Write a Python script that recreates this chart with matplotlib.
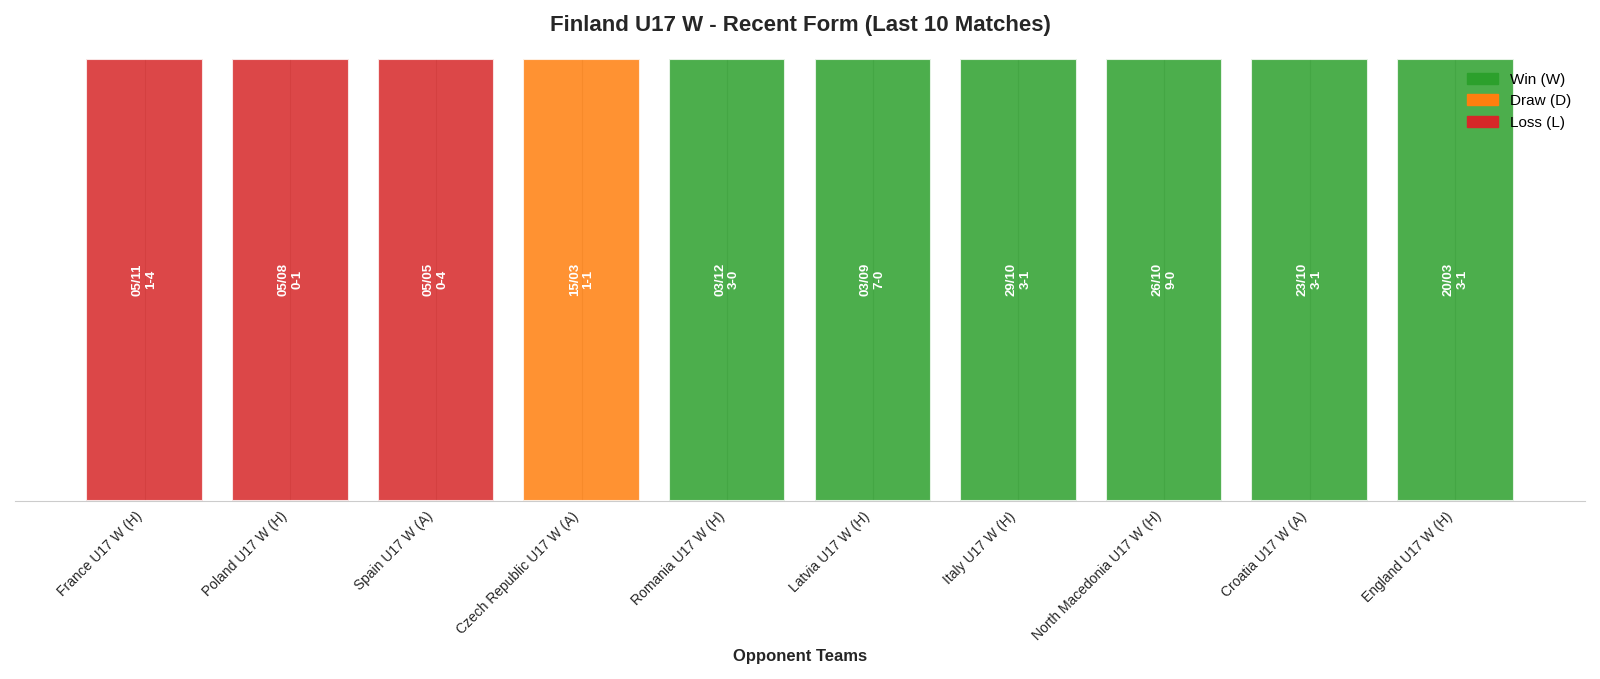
import matplotlib
matplotlib.use('Agg')
from matplotlib import pyplot as plt
from matplotlib.patches import Patch

plt.rcParams['font.family'] = ['Liberation Sans', 'DejaVu Sans']

opponents = ['France U17 W (H)', 'Poland U17 W (H)', 'Spain U17 W (A)',
             'Czech Republic U17 W (A)', 'Romania U17 W (H)', 'Latvia U17 W (H)',
             'Italy U17 W (H)', 'North Macedonia U17 W (H)', 'Croatia U17 W (A)',
             'England U17 W (H)']
dates = ['05/11', '05/08', '05/05', '15/03', '03/12', '03/09', '29/10',
         '26/10', '23/10', '20/03']
scores = ['1-4', '0-1', '0-4', '1-1', '3-0', '7-0', '3-1', '9-0', '3-1', '3-1']
results = ['L', 'L', 'L', 'D', 'W', 'W', 'W', 'W', 'W', 'W']

result_colors = {'W': '#2ca02c', 'D': '#ff7f0e', 'L': '#d62728'}
colors = [result_colors[r] for r in results]
x = list(range(len(opponents)))

fig, ax = plt.subplots(figsize=(16, 6.79), dpi=100)
ax.set_axisbelow(True)
ax.grid(axis='x', color='#cccccc', linewidth=0.8)

ax.bar(x, [1] * len(x), color=colors, alpha=0.85, edgecolor='white', linewidth=1.5)

for i in x:
    ax.text(i, 0.5, f'{dates[i]}\n{scores[i]}', rotation=90, ha='center', va='center',
            color='white', fontsize=9.5, fontweight='bold')

ax.set_ylim(0, 1)
ax.set_xticks(x)
ax.set_xticklabels(opponents, rotation=45, ha='right', fontsize=10, color='#262626')
ax.set_yticks([])
ax.tick_params(axis='x', length=0, pad=6)
for side in ['left', 'top', 'right']:
    ax.spines[side].set_visible(False)
ax.spines['bottom'].set_color('#cccccc')

ax.set_xlabel('Opponent Teams', fontsize=12, fontweight='bold', color='#262626')
ax.set_title('Finland U17 W - Recent Form (Last 10 Matches)', fontsize=16,
             fontweight='bold', color='#262626', pad=20)

handles = [Patch(color=result_colors['W'], label='Win (W)'),
           Patch(color=result_colors['D'], label='Draw (D)'),
           Patch(color=result_colors['L'], label='Loss (L)')]
ax.legend(handles=handles, loc='upper right', frameon=False, fontsize=11)

plt.tight_layout()
plt.savefig('out.png', dpi=100)
